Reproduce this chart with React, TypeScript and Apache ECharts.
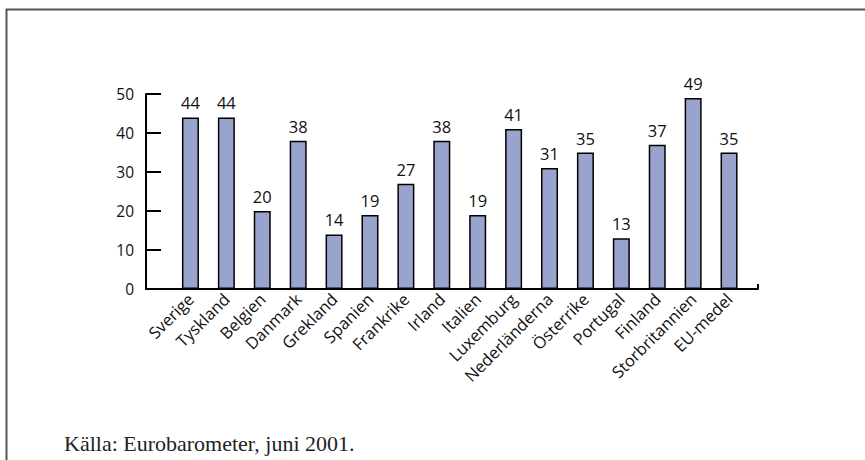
import React, { useEffect, useRef } from "react";
import * as echarts from "echarts";

const categories = [
  "Sverige", "Tyskland", "Belgien", "Danmark", "Grekland", "Spanien", "Frankrike", "Irland",
  "Italien", "Luxemburg", "Nederländerna", "Österrike", "Portugal", "Finland", "Storbritannien", "EU-medel",
];
const values = [44, 44, 20, 38, 14, 19, 27, 38, 19, 41, 31, 35, 13, 37, 49, 35];
const yTicks = [0, 10, 20, 30, 40, 50];
const source = "Källa: Eurobarometer, juni 2001.";

const SANS = "'Open Sans', 'Noto Sans', sans-serif";

export default function App() {
  const ref = useRef<HTMLDivElement>(null);
  useEffect(() => {
    if (!ref.current) return;
    const chart = echarts.init(ref.current, null, { renderer: "svg" });
    chart.setOption({
      animation: false,
      backgroundColor: "#ffffff",
      grid: [
        { left: 172.5, right: 118, top: 94, bottom: 171 },
        { left: 146, right: 107, top: 94, bottom: 171 },
      ],
      title: {
        text: source,
        left: 59,
        top: 427,
        textStyle: { fontFamily: "'Liberation Serif', serif", fontSize: 22, fontWeight: "normal", color: "#222" },
      },
      xAxis: [
        {
          type: "category",
          gridIndex: 0,
          data: categories,
          axisLine: { show: false },
          axisTick: { show: false },
          axisLabel: {
            rotate: 45,
            margin: 7,
            interval: 0,
            fontFamily: SANS,
            fontSize: 16.5,
            color: "#111",
          },
        },
        {
          type: "value",
          gridIndex: 1,
          min: 0,
          max: 1,
          interval: 1,
          axisLine: { show: true, lineStyle: { color: "#000", width: 2 } },
          axisTick: { show: true, inside: true, length: 5, lineStyle: { color: "#000", width: 2 } },
          axisLabel: { show: false },
          splitLine: { show: false },
        },
      ],
      yAxis: [
        {
          type: "value",
          gridIndex: 0,
          min: 0,
          max: 50,
          interval: 10,
          offset: 26.5,
          axisLine: { show: true, lineStyle: { color: "#000", width: 2 } },
          axisTick: { show: true, inside: true, length: 15, lineStyle: { color: "#000", width: 2 } },
          axisLabel: {
            margin: 12,
            fontFamily: SANS,
            fontSize: 15.5,
            color: "#111",
            formatter: (v: number) => (yTicks.includes(v) ? String(v) : ""),
          },
          splitLine: { show: false },
        },
        { type: "value", gridIndex: 1, min: 0, max: 1, show: false },
      ],
      series: [
        {
          type: "bar",
          xAxisIndex: 0,
          yAxisIndex: 0,
          data: values,
          barWidth: 17,
          itemStyle: { color: "#98A4CE", borderColor: "#000", borderWidth: 1.5 },
          label: {
            show: true,
            position: "top",
            distance: 6,
            fontFamily: SANS,
            fontSize: 16.5,
            color: "#111",
          },
        },
      ],
      graphic: [
        {
          type: "polyline",
          shape: { points: [[6.5, 460], [6.5, 9.5], [865, 9.5]] },
          style: { stroke: "#555", lineWidth: 2, fill: "none" },
          silent: true,
        },
      ],
    });
    return () => chart.dispose();
  }, []);
  return <div ref={ref} style={{ position: "fixed", left: 0, top: 0, width: 865, height: 460 }} />;
}
